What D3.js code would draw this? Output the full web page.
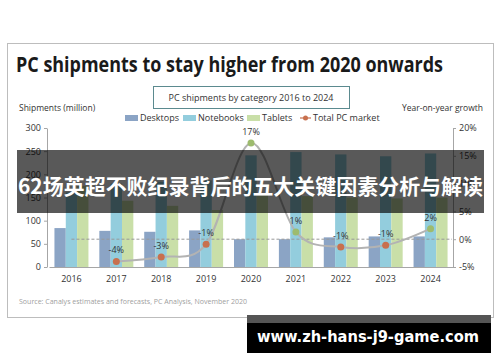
<!DOCTYPE html>
<html>
<head>
<meta charset="utf-8">
<script src="https://cdn.jsdelivr.net/npm/d3@7"></script>
<style>
  body { margin: 0; background: #fff; }
  svg { display: block; font-family: "Open Sans", sans-serif; }
</style>
</head>
<body>
<svg id="chart" width="500" height="362"></svg>
<script>
// data
var years = ["2016", "2017", "2018", "2019", "2020", "2021", "2022", "2023", "2024"];
var desktops = [84, 78, 76, 79, 60, 60, 64, 66, 66];
var notebooks = [161, 180, 184, 187, 241, 248, 243, 239, 245];
var tablets = [175, 143, 132, 123, 155, 153, 150, 148, 150];
var growth = [null, -4.0, -3.2, -0.9, 17.3, 1.3, -1.4, -1.1, 1.9];
var leftTicks = [0, 50, 100, 150, 200, 250, 300];
var rightTicks = [-5, 0, 5, 10, 15, 20];
var seriesNames = ["Desktops", "Notebooks", "Tablets"];
var seriesColors = ["#8ba4c5", "#93cddd", "#c9dfa8"];

var svg = d3.select("#chart");

// fit a text element into a given width
function fit(sel, w) {
  sel.attr("textLength", w).attr("lengthAdjust", "spacingAndGlyphs");
}

// frame
svg.append("rect").attr("x", 7.5).attr("y", 43.5).attr("width", 486).attr("height", 274)
  .attr("fill", "#fff").attr("stroke", "#bdbdbd");

fit(svg.append("text").attr("x", 16).attr("y", 72).attr("font-size", 21).attr("font-weight", 700)
  .attr("fill", "#1a1a1a").text("PC shipments to stay higher from 2020 onwards"), 427);

// subtitle box
svg.append("rect").attr("x", 153.5).attr("y", 86.5).attr("width", 196).attr("height", 22)
  .attr("fill", "#fff").attr("stroke", "#5b8a8f");
svg.append("text").attr("x", 251).attr("y", 100.5).attr("text-anchor", "middle")
  .attr("font-size", 9).attr("fill", "#333").text("PC shipments by category 2016 to 2024");

svg.append("text").attr("x", 19).attr("y", 111).attr("font-size", 8.5).attr("fill", "#333").text("Shipments (million)");
svg.append("text").attr("x", 483).attr("y", 111).attr("text-anchor", "end").attr("font-size", 8.5).attr("fill", "#333").text("Year-on-year growth");

// scales
var x = d3.scaleBand().domain(years).range([49, 453]);
var groupW = 34;
var xs = d3.scaleBand().domain(seriesNames).range([0, groupW]);
var y = d3.scaleLinear().domain([0, 300]).range([267, 128]);
var y2 = d3.scaleLinear().domain([-5, 20]).range([267, 128]);
var off = (x.bandwidth() - groupW) / 2;

// bars
var seriesVals = [desktops, notebooks, tablets];
seriesVals.forEach(function(vals, si) {
  svg.append("g").selectAll("rect").data(vals).enter().append("rect")
    .attr("x", function(d, i) { return x(years[i]) + off + xs(seriesNames[si]); })
    .attr("y", function(d) { return y(d); })
    .attr("width", xs.bandwidth())
    .attr("height", function(d) { return y(0) - y(d); })
    .attr("fill", seriesColors[si]);
});

// axes
var axL = svg.append("g").attr("transform", "translate(47,0)")
  .call(d3.axisLeft(y).tickValues(leftTicks).tickSize(3).tickSizeOuter(0));
var axR = svg.append("g").attr("transform", "translate(453,0)")
  .call(d3.axisRight(y2).tickValues(rightTicks).tickSize(3).tickSizeOuter(0).tickFormat(function(d) { return d + "%"; }));
var axB = svg.append("g").attr("transform", "translate(0,267)")
  .call(d3.axisBottom(x).tickSize(0).tickPadding(9));
[axL, axR, axB].forEach(function(a) {
  a.select(".domain").attr("stroke", "#a6a6a6");
  a.selectAll(".tick line").attr("stroke", "#a6a6a6");
  a.selectAll("text").attr("font-size", 9).attr("fill", "#333").attr("font-family", "Open Sans, sans-serif");
});

// zero growth dashed line
svg.append("line").attr("x1", x("2016") + x.bandwidth() / 2).attr("x2", 452)
  .attr("y1", y2(0)).attr("y2", y2(0))
  .attr("stroke", "#999").attr("stroke-dasharray", "3,2");

// growth curve
var pts = growth.map(function(g, i) { return {year: years[i], g: g}; }).filter(function(d) { return d.g !== null; });
var line = d3.line()
  .x(function(d) { return x(d.year) + x.bandwidth() / 2; })
  .y(function(d) { return y2(d.g); })
  .curve(d3.curveCardinal.tension(0));
svg.append("path").datum(pts).attr("d", line).attr("fill", "none").attr("stroke", "#b3b3b3").attr("stroke-width", 2);

svg.append("g").selectAll("circle").data(pts).enter().append("circle")
  .attr("cx", function(d) { return x(d.year) + x.bandwidth() / 2; })
  .attr("cy", function(d) { return y2(d.g); })
  .attr("r", 3.5)
  .attr("fill", function(d) { return d.g < 0 ? "#c8704e" : "#9dbb6e"; });

svg.append("g").selectAll("text").data(pts).enter().append("text")
  .attr("x", function(d) { return x(d.year) + x.bandwidth() / 2; })
  .attr("y", function(d) { return y2(d.g) - 8; })
  .attr("text-anchor", "middle").attr("font-size", 9).attr("fill", "#333")
  .text(function(d) { return Math.round(d.g) + "%"; });

// legend
var legX = [125, 183, 247];
seriesNames.forEach(function(n, i) {
  svg.append("rect").attr("x", legX[i]).attr("y", 115).attr("width", 13).attr("height", 6).attr("fill", seriesColors[i]);
  svg.append("text").attr("x", legX[i] + 15).attr("y", 121).attr("font-size", 9).attr("fill", "#333").text(n);
});
svg.append("line").attr("x1", 300).attr("x2", 311).attr("y1", 118).attr("y2", 118).attr("stroke", "#c8704e").attr("stroke-width", 1.2);
svg.append("circle").attr("cx", 305.5).attr("cy", 118).attr("r", 2.5).attr("fill", "#c8704e");
svg.append("text").attr("x", 313).attr("y", 121).attr("font-size", 9).attr("fill", "#333").text("Total PC market");

// source
fit(svg.append("text").attr("x", 19).attr("y", 304).attr("font-size", 7).attr("fill", "#a0a0a0")
  .text("Source: Canalys estimates and forecasts, PC Analysis, November 2020"), 228);

// overlay banner
svg.append("rect").attr("x", 17).attr("y", 150).attr("width", 467).attr("height", 63).attr("fill", "rgba(0,0,0,0.65)");
fit(svg.append("text").attr("x", 18).attr("y", 194).attr("font-size", 21).attr("font-weight", 700)
  .attr("font-family", "Noto Sans CJK SC, sans-serif").attr("fill", "#fff")
  .text("62场英超不败纪录背后的五大关键因素分析与解读"), 465);

// watermark
svg.append("rect").attr("x", 247).attr("y", 315).attr("width", 244).attr("height", 9).attr("fill", "#555");
svg.append("rect").attr("x", 247).attr("y", 323).attr("width", 244).attr("height", 30).attr("fill", "#000");
fit(svg.append("text").attr("x", 257).attr("y", 342).attr("font-size", 15).attr("font-weight", 700)
  .attr("font-family", "DejaVu Sans, sans-serif").attr("fill", "#fff")
  .text("www.zh-hans-j9-game.com"), 222);
</script>
</body>
</html>
